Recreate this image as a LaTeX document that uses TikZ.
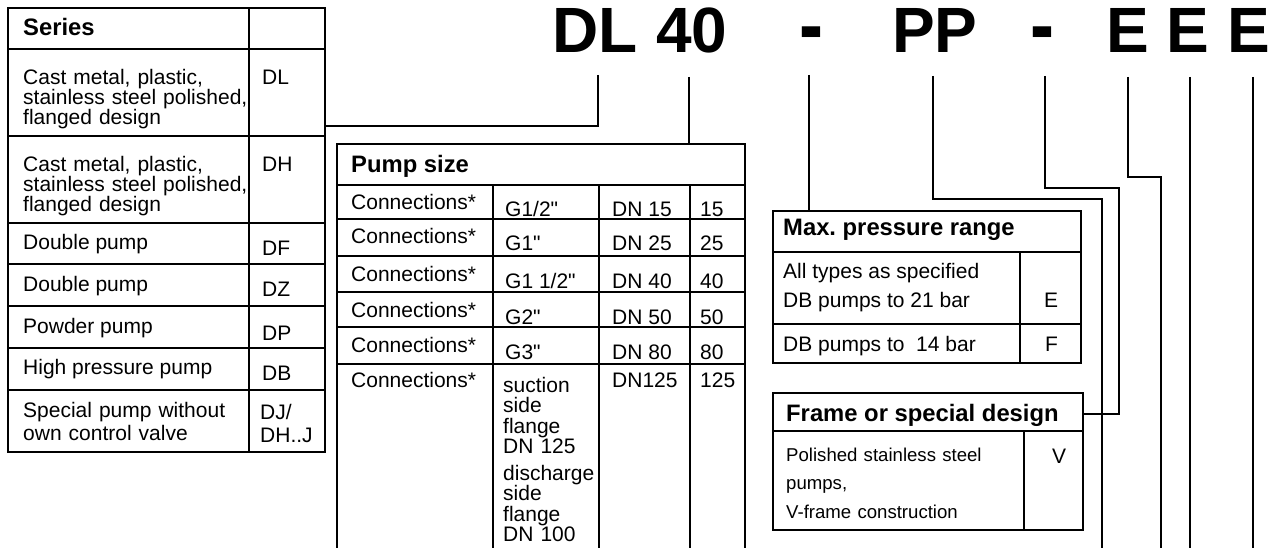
\documentclass[tikz,border=0pt]{standalone}
\usepackage{fontspec}
\setmainfont{Liberation Sans}
\newfontfamily\dashfont{Liberation Sans}[FakeStretch=0.8]
\newcommand{\dq}{\XeTeXglyph\XeTeXcharglyph"22\relax}
\begin{document}
\frenchspacing
\begin{tikzpicture}[x=1pt,y=-1pt,
  tbl/.style={line width=2pt},
  conn/.style={line width=2pt},
  body/.style={anchor=base west,inner sep=0pt,font=\fontsize{21}{20}\selectfont},
  hdr/.style={anchor=base west,inner sep=0pt,font=\bfseries\fontsize{23.8}{24}\selectfont},
  smalltxt/.style={anchor=base west,inner sep=0pt,font=\fontsize{18.6}{28.5}\selectfont},
  ttl/.style={anchor=base west,inner sep=0pt,font=\bfseries\fontsize{64}{64}\selectfont},
  ttldash/.style={anchor=base west,inner sep=0pt,font=\dashfont\bfseries\fontsize{90}{90}\selectfont},
  multi/.style={text width=#1,align=left}]
\useasboundingbox (0,0) rectangle (1275,548);

% ---------- Title ----------
\node[ttl] (tDL) at (552,53) {DL};
\node[ttl] (t40) at (656,53) {40};
\node[ttldash] (th1) at (799,56) {-};
\node[ttl] (tPP) at (892,53) {PP};
\node[ttldash] (th2) at (1030,56) {-};
\node[ttl] (tE1) at (1106,53) {E};
\node[ttl] (tE2) at (1166,53) {E};
\node[ttl] (tE3) at (1227,53) {E};

% ---------- Series table ----------
\draw[tbl] (8,8) rectangle (325,452);
\draw[tbl] (249,8) -- (249,452);
\foreach \yy in {49,136,223,264,306,348,390}
  \draw[tbl] (8,\yy) -- (325,\yy);
\node[hdr] (sHead) at (23,36) {Series};
\node[body,multi=400pt] (sL1) at (23,85) {Cast metal, plastic,\\stainless steel polished,\\flanged design};
\node[body] (sC1) at (262,85) {DL};
\node[body,multi=400pt] (sL2) at (23,172) {Cast metal, plastic,\\stainless steel polished,\\flanged design};
\node[body] (sC2) at (262,172) {DH};
\node[body] (sL3) at (23,250) {Double pump};
\node[body] (sC3) at (262,256) {DF};
\node[body] (sL4) at (23,291) {Double pump};
\node[body] (sC4) at (262,297) {DZ};
\node[body] (sL5) at (23,333) {Powder pump};
\node[body] (sC5) at (262,340) {DP};
\node[body] (sL6) at (23,374) {High pressure pump};
\node[body] (sC6) at (262,380) {DB};
\node[body,multi=400pt,font=\fontsize{21}{23}\selectfont] (sL7) at (23,417) {Special pump without\\own control valve};
\node[body,multi=100pt,font=\fontsize{21}{23}\selectfont] (sC7) at (260,419) {DJ/\\DH..J};

% ---------- Pump size table ----------
\draw[tbl] (337,548) -- (337,144) -- (745,144) -- (745,548);
\draw[tbl] (337,185) -- (745,185);
\foreach \xx in {493,599,690}
  \draw[tbl] (\xx,185) -- (\xx,548);
\foreach \yy in {219,256,292,327,364}
  \draw[tbl] (337,\yy) -- (745,\yy);
\node[hdr] (pHead) at (351,173) {Pump size};
% row 1
\node[body] (pA1) at (351,210) {Connections*};
\node[body] (pB1) at (505,217) {G1/2\dq};
\node[body] (pC1) at (612,217) {DN 15};
\node[body] (pD1) at (700,217) {15};
% row 2
\node[body] (pA2) at (351,244) {Connections*};
\node[body] (pB2) at (505,251) {G1\dq};
\node[body] (pC2) at (612,251) {DN 25};
\node[body] (pD2) at (700,251) {25};
% row 3
\node[body] (pA3) at (351,281) {Connections*};
\node[body] (pB3) at (505,288) {G1 1/2\dq};
\node[body] (pC3) at (612,288) {DN 40};
\node[body] (pD3) at (700,288) {40};
% row 4
\node[body] (pA4) at (351,317) {Connections*};
\node[body] (pB4) at (505,324) {G2\dq};
\node[body] (pC4) at (612,324) {DN 50};
\node[body] (pD4) at (700,324) {50};
% row 5
\node[body] (pA5) at (351,352) {Connections*};
\node[body] (pB5) at (505,359) {G3\dq};
\node[body] (pC5) at (612,359) {DN 80};
\node[body] (pD5) at (700,359) {80};
% row 6
\node[body] (pA6) at (351,387) {Connections*};
\node[body,multi=150pt,font=\fontsize{21}{20.5}\selectfont] (pB6) at (503,392)
  {suction\\side\\flange\\DN 125\\[6pt]discharge\\side\\flange\\DN 100};
\node[body] (pC6) at (612,387) {DN125};
\node[body] (pD6) at (700,387) {125};

% ---------- Max. pressure range ----------
\draw[tbl] (773,211) rectangle (1081,363);
\draw[tbl] (773,252) -- (1081,252);
\draw[tbl] (773,324) -- (1081,324);
\draw[tbl] (1020,252) -- (1020,363);
\node[hdr] (mHead) at (783,236) {Max.\ pressure range};
\node[body] (mL1a) at (783,279) {All types as specified};
\node[body] (mL1b) at (783,308) {DB pumps to 21 bar};
\node[body] (mC1) at (1044,308) {E};
\node[body] (mL2) at (783,351) {DB pumps to\ \ 14 bar};
\node[body] (mC2) at (1045,351) {F};

% ---------- Frame or special design ----------
\draw[tbl] (773,393) rectangle (1083,530);
\draw[tbl] (773,431) -- (1083,431);
\draw[tbl] (1024,431) -- (1024,530);
\node[hdr] (fHead) at (786,421) {Frame or special design};
\node[smalltxt,multi=400pt] (fL1) at (786,461) {Polished stainless steel\\pumps,\\V-frame construction};
\node[body] (fC1) at (1052,463) {V};

% ---------- Connector ends ----------
\coordinate (cDL) at (598,75);
\coordinate (c40) at (689,77);
\coordinate (cH1) at (809,75);
\coordinate (cPP) at (933,76);
\coordinate (cH2) at (1045,76);
\coordinate (cE1) at (1128,77);
\coordinate (cE2) at (1190,77);
\coordinate (cE3) at (1253,77);

\coordinate (eDL) at (325,126);
\coordinate (e40) at (689,144);
\coordinate (eH1) at (809,211);
\coordinate (kPP) at (1102,199);
\coordinate (ePP) at (1102,548);
\coordinate (kH2) at (1119,188);
\coordinate (jH2) at (1119,414);
\coordinate (eH2) at (1083,414);
\coordinate (kE1) at (1161,177);
\coordinate (eE1) at (1161,548);
\coordinate (eE2) at (1190,548);
\coordinate (eE3) at (1253,548);

\draw[conn] (cDL) |- (eDL);
\draw[conn] (c40) -- (e40);
\draw[conn] (cH1) -- (eH1);
\draw[conn] (cPP) |- (kPP) -- (ePP);
\draw[conn] (cH2) |- (kH2) -- (jH2) -- (eH2);
\draw[conn] (cE1) |- (kE1) -- (eE1);
\draw[conn] (cE2) -- (eE2);
\draw[conn] (cE3) -- (eE3);
\end{tikzpicture}
\end{document}
